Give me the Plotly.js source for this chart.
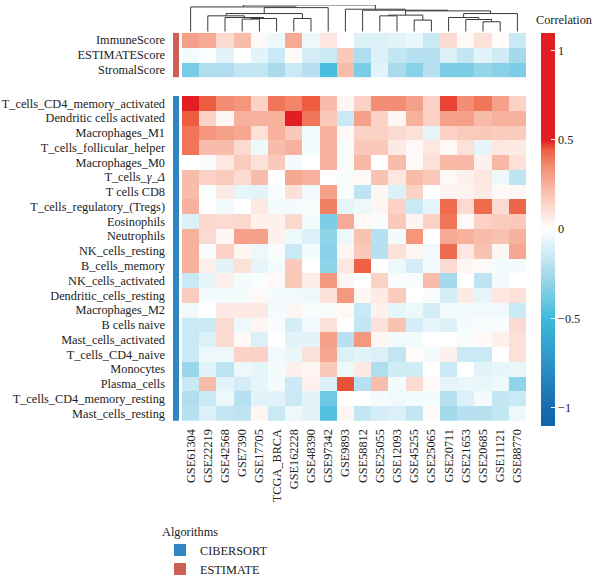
<!DOCTYPE html>
<html>
<head>
<meta charset="utf-8">
<script src="https://cdn.plot.ly/plotly-3.0.1.min.js"></script>
<style>html,body{margin:0;padding:0;background:#fff;}#chart{width:600px;height:584px;}</style>
</head>
<body>
<div id="chart"></div>
<script>
// ---------- data ----------
const datasets = ['GSE61304','GSE22219','GSE42568','GSE7390','GSE17705','TCGA_BRCA','GSE162228','GSE48390','GSE97342','GSE9893','GSE58812','GSE25055','GSE12093','GSE45255','GSE25065','GSE20711','GSE21653','GSE20685','GSE11121','GSE88770'];

const estimateRows = ['ImmuneScore','ESTIMATEScore','StromalScore'];
const estimateValues = [
  [0.30,0.27,0.12,0.22,0.02,-0.05,0.27,-0.05,0.08,0.00,-0.10,-0.10,-0.08,-0.06,-0.15,0.12,0.02,0.10,0.01,-0.15],
  [-0.03,-0.01,-0.08,0.00,-0.08,-0.15,0.02,-0.12,-0.15,0.18,-0.22,-0.10,-0.17,-0.20,-0.20,-0.10,-0.17,-0.08,-0.13,-0.25],
  [-0.36,-0.22,-0.22,-0.17,-0.17,-0.24,-0.15,-0.20,-0.47,0.22,-0.35,-0.08,-0.24,-0.32,-0.20,-0.35,-0.35,-0.29,-0.32,-0.35]
];

const cibersortRows = ['T_cells_CD4_memory_activated','Dendritic cells activated','Macrophages_M1','T_cells_follicular_helper','Macrophages_M0','T_cells_<i>γ</i>_<i>Δ</i>','T cells CD8','T_cells_regulatory_(Tregs)','Eosinophils','Neutrophils','NK_cells_resting','B_cells_memory','NK_cells_activated','Dendritic_cells_resting','Macrophages_M2','B cells naive','Mast_cells_activated','T_cells_CD4_naive','Monocytes','Plasma_cells','T_cells_CD4_memory_resting','Mast_cells_resting'];
const cibersortValues = [
  [0.55,0.45,0.35,0.33,0.15,0.40,0.37,0.45,0.22,0.03,0.15,0.35,0.35,0.30,0.15,0.47,0.35,0.40,0.30,0.15],
  [0.45,0.15,0.03,0.25,0.25,0.25,0.52,0.40,0.18,-0.15,0.30,0.15,0.03,0.25,0.15,0.30,0.30,0.22,0.25,0.25],
  [0.40,0.33,0.30,0.28,0.10,0.25,0.18,-0.04,0.25,0.02,0.15,0.15,0.12,0.10,-0.07,0.15,0.17,0.18,0.17,0.17],
  [0.40,0.22,0.22,0.12,-0.05,0.22,0.25,-0.03,0.25,-0.02,0.18,0.18,0.07,0.02,0.08,0.02,0.10,-0.07,0.08,0.07],
  [0.00,-0.02,0.08,0.17,0.10,0.18,-0.03,0.00,0.25,-0.02,0.23,0.00,0.22,0.02,0.10,0.23,0.23,0.05,0.23,0.10],
  [0.22,0.15,0.17,0.12,0.22,0.00,0.28,0.25,0.00,-0.02,0.02,0.20,0.08,0.22,0.18,0.02,0.05,0.08,-0.05,-0.18],
  [0.22,-0.01,0.07,-0.07,-0.08,-0.02,0.10,-0.04,0.30,-0.02,-0.18,0.03,-0.10,0.15,0.00,0.04,0.04,0.07,0.02,0.03],
  [0.25,0.00,-0.04,0.00,0.07,-0.03,-0.03,-0.02,0.38,-0.07,-0.05,0.03,0.15,-0.15,-0.07,0.42,0.12,0.42,0.12,0.43],
  [-0.10,0.13,0.12,0.13,0.05,0.05,0.13,-0.03,-0.35,0.27,0.02,-0.02,0.18,0.04,0.15,0.40,0.02,0.15,0.17,0.18],
  [0.25,0.12,0.03,0.30,0.30,0.05,-0.05,-0.10,-0.30,-0.05,0.20,-0.20,-0.03,0.33,0.00,0.27,0.25,0.22,0.20,0.25],
  [0.25,-0.02,0.15,0.03,-0.05,-0.02,-0.15,-0.03,-0.32,0.03,0.18,-0.20,0.10,0.03,-0.04,0.42,0.08,0.20,0.03,0.28],
  [0.25,0.05,-0.08,0.10,-0.07,-0.03,0.18,0.00,-0.30,0.08,0.44,0.00,-0.05,-0.12,-0.04,0.12,0.03,0.02,-0.03,-0.03],
  [-0.15,-0.07,0.05,-0.03,-0.01,0.02,0.18,0.06,0.32,0.03,0.00,0.15,-0.02,-0.02,0.22,-0.25,0.00,-0.18,-0.04,0.00],
  [0.17,-0.03,-0.03,-0.03,0.02,-0.03,-0.04,-0.05,0.10,0.32,0.03,0.07,0.17,0.00,-0.02,-0.12,0.07,-0.07,0.08,0.10],
  [-0.04,0.00,0.07,0.07,0.07,-0.03,0.03,-0.02,-0.02,0.02,-0.15,0.05,-0.07,-0.05,-0.12,-0.03,-0.03,-0.04,-0.04,-0.15],
  [-0.15,-0.15,0.12,-0.05,0.03,-0.02,-0.12,-0.04,0.10,0.00,-0.17,0.10,0.20,-0.12,-0.07,-0.10,-0.03,-0.02,-0.02,0.12],
  [-0.15,-0.10,0.12,0.02,-0.10,0.00,-0.08,-0.08,0.30,-0.20,0.32,0.03,-0.03,-0.03,0.00,0.00,-0.02,0.02,0.05,0.10],
  [-0.15,-0.05,-0.05,0.15,0.15,-0.04,-0.06,0.10,0.28,-0.10,-0.08,-0.10,-0.17,0.01,-0.03,0.05,-0.15,-0.15,0.00,0.10],
  [-0.28,-0.08,-0.18,-0.05,-0.07,-0.03,0.05,0.03,0.18,-0.05,0.07,-0.22,-0.13,-0.13,0.00,-0.15,0.00,-0.08,-0.07,-0.06],
  [-0.15,0.22,-0.08,-0.12,-0.07,-0.03,-0.15,0.05,-0.10,0.46,-0.20,0.22,-0.03,0.12,0.02,-0.07,-0.06,-0.06,-0.05,-0.30],
  [-0.22,-0.15,-0.05,-0.20,-0.08,-0.08,-0.15,-0.08,-0.38,0.00,0.00,-0.03,-0.04,-0.03,-0.03,-0.20,-0.10,-0.03,-0.17,-0.15],
  [-0.20,-0.10,-0.17,-0.18,0.03,-0.15,-0.05,-0.08,-0.45,0.03,-0.17,-0.12,-0.10,-0.17,0.02,-0.25,-0.20,-0.20,-0.17,-0.05]
];

// dendrogram merges: [childA, childB, height]; ids < 20 are leaves (column index), id 20+k is merge k
const dendroMerges = [
  [3,4,12.7],[20,5,13.3],[2,21,14.3],[1,22,16.0],[6,7,13.3],[23,24,18.3],[25,8,24.3],[0,26,25.0],
  [11,12,16.0],[13,14,11.7],[28,29,16.7],[17,18,10.0],[16,31,12.3],[15,32,14.3],[33,19,18.3],
  [30,34,21.0],[10,35,21.7],[9,36,22.7],[27,37,27.0]
];

const algorithms = ['CIBERSORT','ESTIMATE'];
const algorithmColors = ['#2f86c3','#cd5f55'];
const colorbarTicks = [-1,-0.5,0,0.5,1];
const colorbarTickText = ['\u22121','\u22120.5','0','0.5','1'];
const colorbarTitle = 'Correlation';

// ---------- helpers ----------
const W = 600, H = 584;
const px = v => v / W;
const py = v => 1 - v / H;
const FONT = '"Liberation Serif", "Times New Roman", "DejaVu Serif", serif';
const TXT = '#222';

// dendrogram segments
const nLeaf = datasets.length;
const pos = {}, hgt = {};
for (let i = 0; i < nLeaf; i++) { pos[i] = i; hgt[i] = 0; }
const dx = [], dy = [];
dendroMerges.forEach((m, k) => {
  const [a, b, h] = m;
  const id = nLeaf + k;
  dx.push(pos[a], pos[a], pos[b], pos[b], null);
  dy.push(hgt[a], h, h, hgt[b], null);
  pos[id] = (pos[a] + pos[b]) / 2;
  hgt[id] = h;
});

const colIdx = datasets.map((_, i) => i);
const cibIdx = cibersortRows.map((_, i) => i);
const estIdx = estimateRows.map((_, i) => i);

const traces = [
  {type:'heatmap', x: colIdx, y: cibIdx, z: cibersortValues, xaxis:'x', yaxis:'y', coloraxis:'coloraxis', hoverinfo:'skip'},
  {type:'heatmap', x: colIdx, y: estIdx, z: estimateValues, xaxis:'x', yaxis:'y2', coloraxis:'coloraxis', hoverinfo:'skip'},
  {type:'heatmap', x:[0], y: cibIdx, z: cibIdx.map(() => [0]), xaxis:'x3', yaxis:'y', showscale:false,
   colorscale:[[0,algorithmColors[0]],[1,algorithmColors[0]]], hoverinfo:'skip'},
  {type:'heatmap', x:[0], y: estIdx, z: estIdx.map(() => [1]), xaxis:'x3', yaxis:'y2', showscale:false,
   colorscale:[[0,algorithmColors[1]],[1,algorithmColors[1]]], hoverinfo:'skip'},
  {type:'scatter', mode:'lines', x: dx, y: dy, xaxis:'x', yaxis:'y3', showlegend:false,
   line:{color:'#3a3a3a', width:1}, hoverinfo:'skip'},
  {type:'scatter', mode:'markers', x:[null], y:[null], name: algorithms[0], xaxis:'x', yaxis:'y',
   marker:{symbol:'square', size:13, color: algorithmColors[0]}},
  {type:'scatter', mode:'markers', x:[null], y:[null], name: algorithms[1], xaxis:'x', yaxis:'y',
   marker:{symbol:'square', size:13, color: algorithmColors[1]}}
];

const zr = 1.1;
const nrm = v => (v + zr) / (2 * zr);
const layout = {
  width: W, height: H,
  margin: {l:0, r:0, t:0, b:0},
  paper_bgcolor:'#fff', plot_bgcolor:'rgba(0,0,0,0)',
  font: {family: FONT, size: 12.3, color: TXT},
  showlegend: true,
  legend: {
    x: px(160), y: py(525), xanchor:'left', yanchor:'top',
    title: {text:'Algorithms', font:{family: FONT, size:12.3, color: TXT}},
    font: {family: FONT, size: 12.3, color: TXT},
    itemsizing:'constant', tracegroupgap: 2, bgcolor:'rgba(0,0,0,0)'
  },
  coloraxis: {
    cmin: -zr, cmax: zr,
    colorscale: [
      [nrm(-1.1),'rgb(16,100,168)'],
      [nrm(-1.0),'rgb(22,108,176)'],
      [nrm(-0.5),'rgb(62,186,220)'],
      [nrm(-0.25),'rgb(165,218,236)'],
      [nrm(0),'rgb(255,255,255)'],
      [nrm(0.2),'rgb(249,195,178)'],
      [nrm(0.35),'rgb(243,142,116)'],
      [nrm(0.45),'rgb(237,92,62)'],
      [nrm(0.5),'rgb(226,30,36)'],
      [nrm(1.1),'rgb(226,30,36)']
    ],
    colorbar: {
      x: px(541), xanchor:'left', xpad:0, ypad:0,
      y: py(231.5), yanchor:'middle',
      len: 393, lenmode:'pixels', thickness: 14, outlinewidth: 0,
      tickvals: colorbarTicks, ticktext: colorbarTickText,
      ticks:'inside', ticklen:4, tickcolor:'#ffffff', tickwidth:1,
      tickfont: {family: FONT, size: 12.3, color: TXT}
    }
  },
  annotations: [{
    text: colorbarTitle, xref:'paper', yref:'paper', x: px(564), y: py(20),
    xanchor:'center', yanchor:'middle', showarrow:false,
    font: {family: FONT, size: 12.3, color: TXT}
  }],
  xaxis: {
    domain: [px(182), px(526)], range: [-0.5, nLeaf - 0.5], anchor:'y',
    tickvals: colIdx, ticktext: datasets, tickangle: -90, ticks:'', ticklabelstandoff: 5,
    showgrid:false, zeroline:false, showline:false,
    tickfont: {family: FONT, size: 12.3, color: TXT}
  },
  xaxis3: {
    domain: [px(173), px(179)], range: [-0.5, 0.5], anchor:'y',
    showticklabels:false, showgrid:false, zeroline:false, showline:false, ticks:''
  },
  yaxis: {
    domain: [py(425), py(97)], range: [cibersortRows.length - 0.5, -0.5], anchor:'x3',
    tickvals: cibIdx, ticktext: cibersortRows, ticks:'', ticklabelstandoff: 7,
    showgrid:false, zeroline:false, showline:false,
    tickfont: {family: FONT, size: 12.3, color: TXT}
  },
  yaxis2: {
    domain: [py(78), py(33)], range: [estimateRows.length - 0.5, -0.5], anchor:'x3',
    tickvals: estIdx, ticktext: estimateRows, ticks:'', ticklabelstandoff: 7,
    showgrid:false, zeroline:false, showline:false,
    tickfont: {family: FONT, size: 12.3, color: TXT}
  },
  yaxis3: {
    domain: [py(32), py(5)], range: [0, 27], anchor:'x',
    showticklabels:false, showgrid:false, zeroline:false, showline:false, ticks:''
  }
};

Plotly.newPlot('chart', traces, layout, {displayModeBar:false, staticPlot:true});
</script>
</body>
</html>
